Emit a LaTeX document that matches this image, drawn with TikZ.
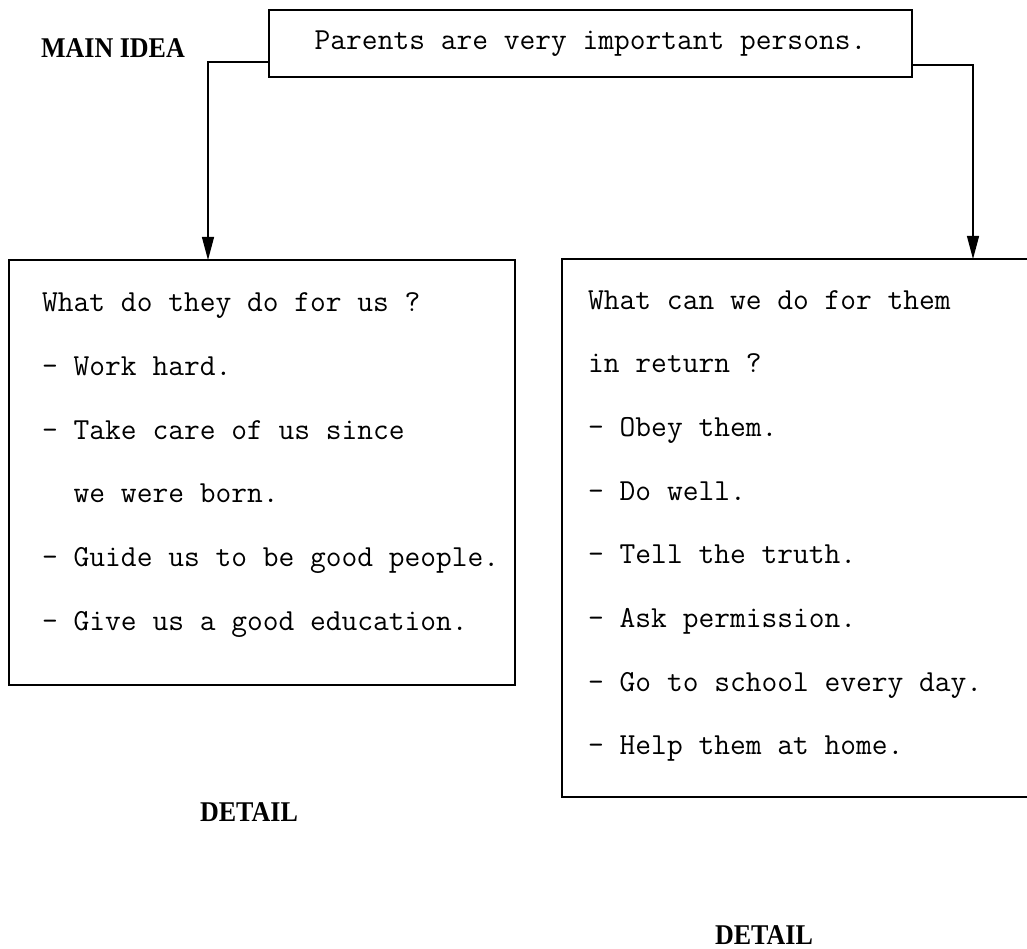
\documentclass[tikz,border=0pt]{standalone}
\usepackage{fontspec}
\newfontfamily\tagfont{Liberation Serif}
\usetikzlibrary{arrows.meta}

\newcommand{\typefont}{\fontsize{30.6}{36}\selectfont\ttfamily}

\begin{document}
\begin{tikzpicture}[x=1pt,y=-1pt,
    box/.style={draw, line width=1.5pt, inner sep=0pt},
    ttline/.style={anchor=base west, inner sep=0pt, font=\typefont},
    tag/.style={inner sep=0pt, yscale=1.1, font=\fontsize{26}{30}\selectfont\tagfont\bfseries},
    flow/.style={line width=1.2pt, -{Triangle[length=23pt,width=12pt]}}]

	\useasboundingbox (0,0) rectangle (1027,949);

	% main idea
	\node[box, minimum width=643pt, minimum height=67pt, font=\typefont] (main) at (590.5,43.5) {Parents are very important persons.};
	\node[tag] (mainlbl) at (113,48) {MAIN IDEA};

	% the two detail boxes
	\node[box, minimum width=506pt, minimum height=425pt] (dobox) at (262,472.5) {};
	\node[box, minimum width=473pt, minimum height=538pt] (canbox) at (798.5,528) {};

	\foreach \txt [count=\i from 0] in {What do they do for us ?, - Work hard., - Take care of us since, \phantom{-} we were born., - Guide us to be good people., - Give us a good education.}
		\node[ttline] (do\i) at (42,312+63.6*\i) {\txt};

	\foreach \txt [count=\i from 0] in {What can we do for them, in return ?, - Obey them., - Do well., - Tell the truth., - Ask permission., - Go to school every day., - Help them at home.}
		\node[ttline] (can\i) at (588,309+63.7*\i) {\txt};

	\node[tag] (dolbl) at (249,812) {DETAIL};
	\node[tag] (canlbl) at (764,935) {DETAIL};

	% connectors
	\coordinate (doout) at (269,62);
	\coordinate (doin) at (208,260);
	\coordinate (canout) at (912,65);
	\coordinate (canin) at (973,259);
	\draw[flow] (doout) -| (doin);
	\draw[flow] (canout) -| (canin);
\end{tikzpicture}
\end{document}
